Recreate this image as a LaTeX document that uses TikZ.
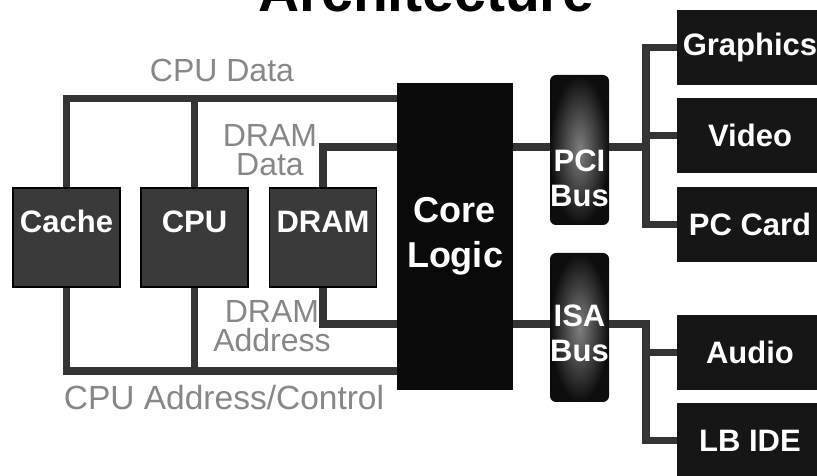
\documentclass[tikz,border=0pt]{standalone}
\usepackage{fontspec}
\setmainfont{Liberation Sans}
\usepackage{tikz}
\usetikzlibrary{positioning, calc, shadings}
\definecolor{busGray}{RGB}{52,52,52}
\definecolor{sigGray}{RGB}{135,135,135}
\definecolor{unitGray}{RGB}{58,58,58}
\definecolor{coreBlack}{RGB}{10,10,10}
\definecolor{devBlack}{RGB}{22,22,22}

\begin{document}
\begin{tikzpicture}[x=1pt, y=1pt,
  busline/.style={draw=busGray, line width=7.5pt},
  unitbox/.style={draw=black, line width=1.2pt, fill=unitGray, minimum width=107pt, minimum height=99pt,
    text=white, font=\fontsize{31}{31}\bfseries, text height=22pt, text depth=31pt, inner sep=0pt},
  corebox/.style={fill=coreBlack, minimum width=116pt, minimum height=307pt, text=white, align=center,
    font=\fontsize{36}{45}\bfseries, inner sep=0pt},
  busbox/.style={rounded corners=6pt, inner color=black!50, outer color=black!95, minimum width=59pt,
    minimum height=150pt, inner sep=0pt},
  buslabel/.style={text=white, align=center, font=\fontsize{31}{35}\bfseries, inner sep=0pt},
  devbox/.style={fill=devBlack, minimum width=146pt, minimum height=75pt, text=white,
    font=\fontsize{31}{31}\bfseries, inner sep=0pt},
  sigtext/.style={text=sigGray, align=center, font=\fontsize{32}{29}\selectfont, inner sep=0pt}
]
\useasboundingbox (0,0) rectangle (817,476);
\clip (0,0) rectangle (817,476);

% Title (cut off at the top)
\node[font=\fontsize{57}{60}\bfseries, anchor=base, inner sep=0pt] (title) at (426,464) {Architecture};

% Left side units
\node[unitbox] (cache) at (66.5,238.5) {Cache};
\node[unitbox] (cpu) at (194.5,238.5) {CPU};
\node[unitbox] (dram) at (323,238.5) {DRAM};

% Core logic and buses
\node[corebox] (core) at (455,239.5) {Core\\Logic};
\node[busbox] (pci) at (579.5,326) {};
\node[buslabel] (pcitext) at ([yshift=-28.5pt]pci.center) {PCI\\Bus};
\node[busbox, minimum height=149pt] (isa) at (579.5,148.5) {};
\node[buslabel] (isatext) at ([yshift=-6pt]isa.center) {ISA\\Bus};

% Devices
\node[devbox] (graphics) at (750,428.5) {Graphics};
\node[devbox] (video) at (750,340.5) {Video};
\node[devbox] (pccard) at (750,251.5) {PC Card};
\node[devbox] (audio) at (750,123.5) {Audio};
\node[devbox] (lbide) at (750,35.5) {LB IDE};

% Rails
\coordinate (datarail) at (0,377.5);
\coordinate (addrrail) at (0,105);
\coordinate (dramdata) at (0,329);
\coordinate (dramaddr) at (0,152);
\coordinate (pcitap) at (646,329);
\coordinate (isatap) at (646,152);

% CPU side connections
\draw[busline] (cache.north) |- (core.west |- datarail);
\draw[busline] (cpu.north) -- (cpu.north |- datarail);
\draw[busline] (cache.south) |- (core.west |- addrrail);
\draw[busline] (cpu.south) -- (cpu.south |- addrrail);
\draw[busline] (dram.north) |- (core.west |- dramdata);
\draw[busline] (dram.south) |- (core.west |- dramaddr);

% PCI side
\draw[busline] (core.east |- pcitap) -- (pci.west |- pcitap);
\draw[busline] (pci.east |- pcitap) -- (pcitap);
\draw[busline] (graphics.west) -| (pccard.west -| pcitap) -- (pccard.west);
\draw[busline] (video.west) -- (video.west -| pcitap);

% ISA side
\draw[busline] (core.east |- isatap) -- (isa.west |- isatap);
\draw[busline] (isa.east |- isatap) -| (lbide.west -| isatap) -- (lbide.west);
\draw[busline] (audio.west) -- (audio.west -| isatap);

% Signal labels
\node[sigtext, anchor=base] (cpudatatext) at (222,394) {CPU Data};
\node[sigtext] (dramdatatext) at (270,326) {DRAM\\Data};
\node[sigtext] (dramaddrtext) at (272,149.5) {DRAM\\Address};
\node[sigtext, anchor=base, font=\fontsize{33.5}{33}\selectfont] (cpuaddrtext) at (224,66) {CPU Address/Control};

\end{tikzpicture}
\end{document}
